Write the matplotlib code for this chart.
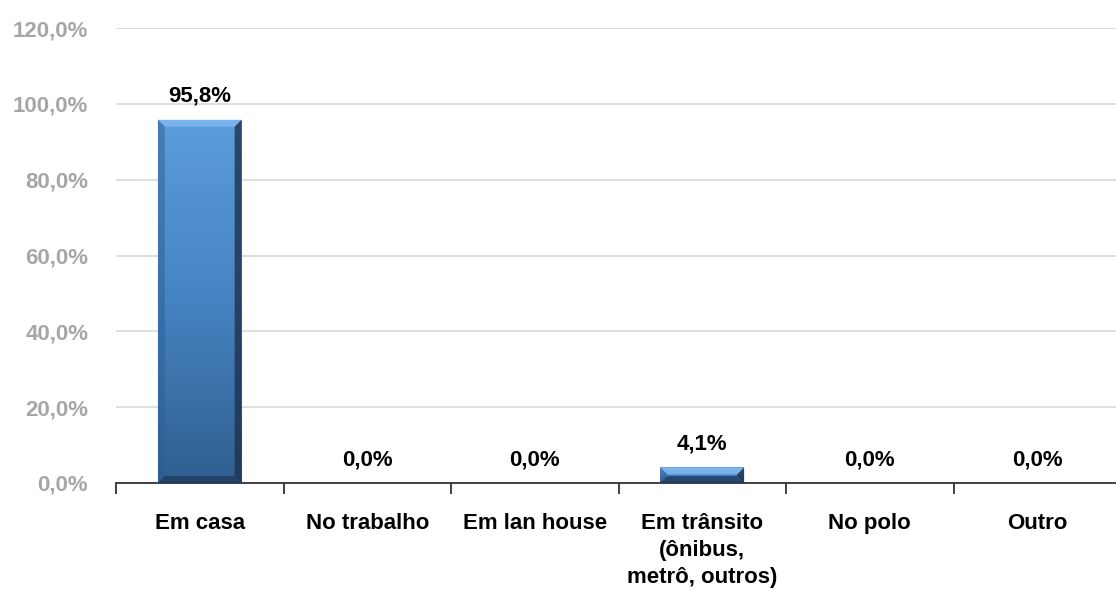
import matplotlib
matplotlib.use("Agg")
import matplotlib.pyplot as plt
import numpy as np
from matplotlib.patches import Polygon
from matplotlib.colors import LinearSegmentedColormap

categories = ["Em casa", "No trabalho", "Em lan house",
              "Em trânsito\n(ônibus,\nmetrô, outros)", "No polo", "Outro"]
values = [95.8, 0.0, 0.0, 4.1, 0.0, 0.0]
value_labels = ["95,8%", "0,0%", "0,0%", "4,1%", "0,0%", "0,0%"]
yticks = [0, 20, 40, 60, 80, 100, 120]
ytick_labels = ["0,0%", "20,0%", "40,0%", "60,0%", "80,0%", "100,0%", "120,0%"]

FONT = ["Liberation Sans", "DejaVu Sans"]
plt.rcParams["font.family"] = FONT
FS = 16

W, H = 1116, 595
fig = plt.figure(figsize=(W / 100, H / 100), dpi=100)
x0, x1 = 116, 1121
y0, y1 = 483, 28
ax = fig.add_axes([x0 / W, 1 - y0 / H, (x1 - x0) / W, (y0 - y1) / H])
ax.set_xlim(-0.5, len(categories) - 0.5)
ax.set_ylim(0, 120)

for s in ["top", "right", "left"]:
    ax.spines[s].set_visible(False)
ax.spines["bottom"].set_color("#333333")
ax.spines["bottom"].set_linewidth(1.3)
ax.set_yticks(yticks)
ax.set_yticklabels(ytick_labels, fontsize=FS, fontweight="bold", color="#a6a6a6")
ax.tick_params(axis="y", length=0, pad=20)
ax.yaxis.grid(True, color="#d9d9d9", linewidth=1.2)
ax.set_axisbelow(True)

ax.set_xticks(np.arange(-0.5, len(categories) + 0.5, 1))
ax.set_xticklabels([])
ax.tick_params(axis="x", length=8, width=1.3, color="#333333", direction="out")
for i, c in enumerate(categories):
    ax.text(i, -7.9, c, ha="center", va="top", fontsize=FS, fontweight="bold",
            linespacing=1.38, color="#000000")

bw = 0.5
px_x = len(categories) / (x1 - x0)
px_y = 120 / (y0 - y1)
bev = 7
cmap = LinearSegmentedColormap.from_list("g", ["#2f5f8f", "#4683c2", "#5c9ddb"])
for i, v in enumerate(values):
    if v > 0:
        l, r = i - bw / 2, i + bw / 2
        bar = ax.bar(i, v, width=bw, color="none", edgecolor="none")[0]
        grad = np.linspace(0, 1, 256).reshape(-1, 1)
        im = ax.imshow(grad, extent=(l, r, 0, v), origin="lower", cmap=cmap,
                       aspect="auto", zorder=2)
        im.set_clip_path(bar)
        bx = bev * px_x
        by = min(bev * px_y, v / 2)
        ax.add_patch(Polygon([(l, v), (r, v), (r - bx, v - by), (l + bx, v - by)],
                             closed=True, color="#80b9ee", alpha=0.85, lw=0, zorder=3))
        ax.add_patch(Polygon([(r, v), (r, 0), (r - bx, by), (r - bx, v - by)],
                             closed=True, color="#1c334f", alpha=0.8, lw=0, zorder=3))
        ax.add_patch(Polygon([(l, v), (l, 0), (l + bx, by), (l + bx, v - by)],
                             closed=True, color="#2f5f91", alpha=0.5, lw=0, zorder=3))
        ax.add_patch(Polygon([(l, 0), (r, 0), (r - bx, by), (l + bx, by)],
                             closed=True, color="#1e3a5c", alpha=0.75, lw=0, zorder=3))
    ax.text(i, v + 3.4, value_labels[i], ha="center", va="bottom", fontsize=FS,
            fontweight="bold", color="#000000", zorder=4)

fig.savefig("out.png", dpi=100)
